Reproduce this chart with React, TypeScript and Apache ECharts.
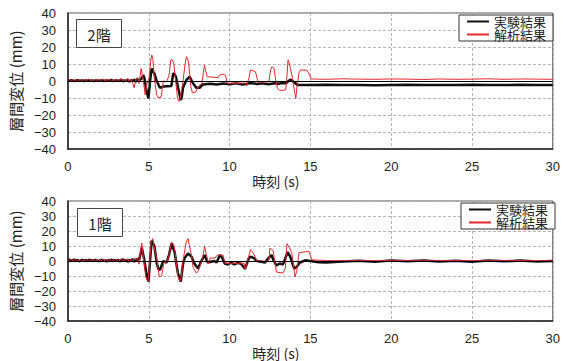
import React, { useEffect, useRef } from "react";
import * as echarts from "echarts";

// ---- shared sample times for the quiet (pre-shaking) part ----
const noiseTimes = [
  0, 0.1, 0.2, 0.3, 0.4, 0.5, 0.6, 0.7, 0.8, 0.9, 1.0, 1.1, 1.2, 1.3, 1.4, 1.5, 1.6, 1.7, 1.8, 1.9, 2.0, 2.1,
  2.2, 2.3, 2.4, 2.5, 2.6, 2.7, 2.8, 2.9, 3.0, 3.1, 3.2, 3.3, 3.4, 3.5, 3.6, 3.7, 3.8, 3.9, 4.0, 4.1, 4.2, 4.3, 4.4,
];

// ---- 2階 (upper chart) ----
const f2ExpNoise = [
  0.3, 0.1, 0.4, 0.2, 0.0, 0.3, 0.5, 0.1, 0.2, 0.4, 0.0, 0.3, 0.2, 0.5, 0.1, 0.3, 0.0, 0.4, 0.2, 0.3, 0.1, 0.5,
  0.0, 0.2, 0.4, 0.1, 0.3, 0.6, -0.1, 0.2, 0.5, 0.0, 0.3, 0.7, -0.2, 0.4, 0.1, 0.6, -0.3, 0.5, 0.0, 0.8, -0.4, 1.0, 0.2,
];
const f2ExpTimes = [
  4.57, 4.67, 4.75, 4.82, 4.98, 5.08, 5.18, 5.3, 5.35, 5.49, 5.69, 5.9, 6.4, 6.51, 6.6, 6.68, 6.82, 6.98, 7.05,
  7.12, 7.33, 7.53, 7.74, 7.94, 8.15, 8.35, 8.8, 9.2, 9.6, 10.0, 10.4, 10.8, 11.0, 11.3, 11.7, 12.0, 12.4, 12.8,
  13.0, 13.3, 13.5, 13.65, 13.76, 13.9, 14.2, 15.0, 16.0, 17.0, 18.0, 19.0, 20.0, 21.0, 22.0, 23.0, 24.0, 25.0,
  26.0, 27.0, 28.0, 29.0, 30.0,
];
const f2ExpVals = [
  1.6, 3.5, 1.0, -4.0, -10.2, 0.0, 7.4, 5.0, 4.5, 0.0, -4.0, -3.3, -3.0, 4.5, 4.0, 2.5, -4.0, -11.2, -9.0,
  -4.0, 0.6, 2.5, -1.4, -4.0, -4.0, -2.0, -1.6, -2.1, -1.5, -1.9, -1.4, -2.0, -1.8, -1.2, -1.7, -1.4, -1.9, -1.3,
  -1.6, -1.2, -1.3, 0.0, 0.8, 0.0, -2.3, -2.4, -2.2, -2.4, -2.3, -2.5, -2.3, -2.2, -2.4, -2.3, -2.4, -2.2,
  -2.3, -2.4, -2.2, -2.3, -2.4,
];
const f2AnaNoise = [
  0.5, 0.9, 0.2, 0.8, 0.3, 1.0, 0.1, 0.7, -0.2, 0.6, 0.9, 0.0, 0.8, 1.2, 0.2, 0.7, -0.3, 0.9, 0.3, 1.1, 0.0, 0.6,
  1.3, -0.2, 0.8, 0.4, 1.4, -0.4, 0.9, 0.2, 1.2, -0.5, 0.7, 1.5, -0.6, 0.9, 0.1, 1.6, -0.8, 1.0, -1.2, -4.0, 1.4, 2.0, -1.5,
];
const f2AnaTimes = [
  4.53, 4.67, 4.78, 4.88, 5.02, 5.14, 5.19, 5.26, 5.34, 5.49, 5.59, 5.76, 5.9, 6.1, 6.25, 6.37, 6.45, 6.55, 6.62,
  6.78, 6.88, 6.95, 7.12, 7.25, 7.33, 7.4, 7.47, 7.6, 7.7, 7.9, 8.05, 8.29, 8.38, 8.45, 8.52, 8.62, 9.3, 9.38,
  9.6, 9.75, 9.85, 11.0, 11.07, 11.2, 11.3, 11.6, 11.72, 11.8, 12.43, 12.55, 12.62, 12.75, 12.85, 12.96, 13.1,
  13.47, 13.55, 13.62, 13.68, 13.75, 13.9, 14.02, 14.1, 14.18, 14.3, 14.4, 14.8, 14.92, 15.05, 16.0, 17.0, 18.0,
  19.0, 20.0, 21.0, 22.0, 23.0, 24.0, 25.0, 26.0, 27.0, 28.0, 29.0, 30.0,
];
const f2AnaVals = [
  7.4, -0.4, -8.2, -2.0, 1.6, 13.3, 15.3, 12.5, 1.6, -8.0, -10.0, -9.5, 0.0, -0.5, 3.0, 12.5, 12.4, 10.6, 4.0,
  -10.2, -12.0, -10.0, 0.0, 10.0, 14.3, 13.0, 10.6, -3.0, -7.0, -6.5, -3.3, -1.4, 5.0, 9.4, 6.0, 2.5, 2.0, 3.5,
  4.0, 3.5, -1.4, -1.2, -3.0, 2.0, 6.5, 5.5, 1.0, -0.8, -0.5, 7.0, 8.4, 7.5, 1.0, -4.3, -5.5,
  -5.3, 3.0, 12.4, 11.0, 8.0, 1.5, -6.0, -10.2, -3.0, 5.0, 6.5, 6.3, 4.0, 1.2, 1.0, 1.3, 1.1,
  1.0, 1.2, 1.1, 0.9, 1.2, 1.0, 1.1, 1.3, 1.0, 1.2, 1.1, 1.0,
];

// ---- 1階 (lower chart) ----
const f1ExpNoise = [
  0.4, 0.9, 0.0, 0.6, 1.0, 0.2, 0.7, -0.2, 0.5, 0.8, 0.1, 0.6, -0.1, 0.9, 0.3, 0.5, 0.0, 0.8, 0.4, -0.2, 0.6, 0.9,
  0.1, 0.5, -0.3, 0.7, 0.2, 1.0, -0.1, 0.6, 0.3, 0.8, -0.2, 0.5, 1.1, 0.0, 0.7, -0.4, 0.9, 0.2, 1.2, -0.5, 0.8, 1.5, 0.3,
];
const f1ExpTimes = [
  4.57, 4.7, 4.85, 4.98, 5.08, 5.18, 5.35, 5.49, 5.59, 5.69, 5.9, 6.1, 6.25, 6.41, 6.6, 6.8, 6.98, 7.12, 7.22,
  7.43, 7.64, 7.84, 8.05, 8.25, 8.45, 8.65, 9.06, 9.2, 9.4, 9.55, 9.7, 9.9, 10.1, 10.3, 10.5, 10.7, 10.96, 11.2,
  11.3, 11.5, 11.7, 12.2, 12.4, 12.6, 12.7, 12.9, 13.1, 13.3, 13.6, 13.75, 14.0, 14.15, 14.35, 14.66, 15.0, 15.5,
  16.0, 16.5, 17.0, 18.0, 19.0, 20.0, 21.0, 22.0, 23.0, 24.0, 25.0, 26.0, 27.0, 28.0, 29.0, 30.0,
];
const f1ExpVals = [
  9.0, 2.0, -8.0, -13.7, 0.0, 13.6, 10.0, -1.0, -5.0, -6.0, 0.0, -1.0, 4.0, 11.6, 6.0, -8.0, -13.7, -2.0, 2.0,
  5.0, 3.0, -2.0, -5.0, 0.0, 4.0, -1.0, 0.0, -1.0, 4.0, 2.0, -1.6, -2.3, -1.0, -2.2, -1.2, -1.8, -5.0, 2.0,
  3.0, 2.0, 0.0, -1.0, 2.0, 4.0, 1.0, -3.0, -1.6, -2.4, 6.0, 3.0, -5.0, -4.0, -1.0, 0.5, 0.0, -0.8,
  -1.0, -0.6, -0.3, 0.2, -0.4, 0.3, -0.2, 0.4, -0.3, 0.2, -0.4, 0.3, -0.2, 0.3, -0.3, 0.1,
];
const f1AnaNoise = [
  0.6, 0.2, 1.0, 0.4, 0.8, -0.1, 0.9, 0.3, 1.1, 0.0, 0.7, -0.3, 0.8, 1.0, -0.2, 0.6, 1.2, 0.1, 0.9, -0.4, 0.8, 0.3,
  1.3, -0.3, 0.9, 0.2, 1.1, -0.5, 1.0, 0.4, 1.3, -0.4, 0.8, 1.5, -0.6, 1.2, 0.3, 1.6, -0.8, 1.1, 0.0, 1.8, 1.0, 2.0, -2.0,
];
const f1AnaTimes = [
  4.57, 4.67, 4.82, 4.95, 5.05, 5.15, 5.25, 5.35, 5.49, 5.65, 5.8, 5.94, 6.14, 6.3, 6.41, 6.55, 6.65, 6.8, 6.92,
  7.0, 7.12, 7.3, 7.43, 7.5, 7.64, 7.74, 7.94, 8.05, 8.15, 8.35, 8.45, 8.55, 8.7, 8.8, 9.1, 9.25, 9.6, 9.72, 10.9,
  10.96, 11.1, 11.3, 11.5, 11.7, 12.43, 12.5, 12.7, 12.9, 13.3, 13.45, 13.55, 13.7, 13.85, 14.05, 14.15, 14.3,
  14.9, 15.1, 16.0, 18.0, 20.0, 22.0, 24.0, 26.0, 28.0, 30.0,
];
const f1AnaVals = [
  12.0, 2.0, -10.8, -13.7, -2.0, 13.0, 15.0, 8.0, 2.0, -10.5, -10.0, -1.0, -0.5, 6.0, 12.7, 11.0, 4.0, -10.0, -13.7,
  -11.0, 0.0, 12.0, 15.0, 11.0, 4.0, -4.0, -8.0, -7.0, -4.0, 3.0, 9.8, 5.0, -2.0, 2.0, 2.0, 4.0, 4.0, -1.5, -1.5,
  -6.0, 0.0, 7.6, 4.7, 0.0, 0.0, 8.6, 7.0, -7.3, -8.0, -5.0, 11.6, 9.0, 5.6, -10.6, -7.0, 5.6,
  6.5, 0.8, 0.3, 0.2, 0.3, 0.2, 0.3, 0.2, 0.3, 0.2,
];

const ytickMin = -40;
const ytickMax = 40;
const xtickMax = 30;

const SERIES_EXP = "実験結果";
const SERIES_ANA = "解析結果";
const FLOOR_LABELS = ["2階", "1階"];

function build(noise: number[], times: number[], vals: number[]) {
  const a = noiseTimes.map((t, i) => [t, noise[i]]);
  const b = times.map((t, i) => [t, vals[i]]);
  return a.concat(b);
}

const NUM_FONT = "'Liberation Sans', Arial, 'Noto Sans CJK JP', sans-serif";
const CJK_FONT = "'Noto Sans CJK JP', 'Liberation Sans', sans-serif";
const TXT = "#222";

export default function App() {
  const ref = useRef<HTMLDivElement>(null);
  useEffect(() => {
    if (!ref.current) return;
    const chart = echarts.init(ref.current, undefined, { renderer: "svg" });
    const grids = [
      { left: 67, top: 13, width: 490, height: 136 },
      { left: 67, top: 201, width: 490, height: 135 },
    ];
    const xAxes = grids.map((_, i) => ({
      type: "value",
      gridIndex: i,
      min: 0,
      max: xtickMax,
      interval: 5,
      axisLine: { show: true, onZero: false, lineStyle: { color: "#222", width: 1.5 } },
      axisTick: { show: false },
      axisLabel: { fontSize: 13, color: TXT, margin: 11, fontFamily: NUM_FONT },
      splitLine: { show: true, lineStyle: { type: [3, 2], color: "#b4b4b4", width: 1 } },
      name: "時刻 (s)",
      nameLocation: "middle",
      nameGap: 12,
      nameTextStyle: { fontSize: 14, color: TXT, fontFamily: CJK_FONT, padding: [0, 69, 0, 0], verticalAlign: "top" },
    }));
    const yAxes = grids.map((_, i) => ({
      type: "value",
      gridIndex: i,
      min: ytickMin,
      max: ytickMax,
      interval: 10,
      axisLine: { show: true, onZero: false, lineStyle: { color: "#222", width: 1.5 } },
      axisTick: { show: false },
      axisLabel: {
        fontSize: 13,
        color: TXT,
        margin: 12,
        fontFamily: NUM_FONT,
        formatter: (v: number) => (v < 0 ? "\u2212" + Math.abs(v) : String(v)),
      },
      splitLine: { show: true, lineStyle: { type: [3, 2], color: "#b4b4b4", width: 1 } },
      name: "層間変位 (mm)",
      nameLocation: "middle",
      nameGap: 42,
      nameTextStyle: { fontSize: 15, color: TXT, fontFamily: CJK_FONT },
    }));
    const zeroLine = {
      silent: true,
      symbol: "none",
      label: { show: false },
      lineStyle: { color: "#000", width: 1, type: "solid" },
      data: [{ yAxis: 0 }],
    };
    const datasets = [
      [build(f2ExpNoise, f2ExpTimes, f2ExpVals), build(f2AnaNoise, f2AnaTimes, f2AnaVals)],
      [build(f1ExpNoise, f1ExpTimes, f1ExpVals), build(f1AnaNoise, f1AnaTimes, f1AnaVals)],
    ];
    const series: any[] = [];
    datasets.forEach((pair, i) => {
      series.push({
        name: SERIES_EXP,
        type: "line",
        xAxisIndex: i,
        yAxisIndex: i,
        data: pair[0],
        symbol: "none",
        lineStyle: { color: "#111", width: 2.5 },
        itemStyle: { color: "#111" },
        z: 2,
        markLine: zeroLine,
      });
      series.push({
        name: SERIES_ANA,
        type: "line",
        xAxisIndex: i,
        yAxisIndex: i,
        data: pair[1],
        symbol: "none",
        lineStyle: { color: "#e8262d", width: 1 },
        itemStyle: { color: "#e8262d" },
        z: 3,
      });
    });
    const legendBase = {
      orient: "vertical",
      icon: "rect",
      itemWidth: 22,
      itemHeight: 2,
      itemGap: 0,
      padding: [0, 7, 0, 8],
      borderColor: "#333",
      borderWidth: 1,
      backgroundColor: "#fff",
      textStyle: { fontSize: 13, lineHeight: 13, color: TXT, fontFamily: CJK_FONT },
      data: [SERIES_EXP, SERIES_ANA],
      selectedMode: false,
    };
    const labelBoxes = [
      { x: 76.5, y: 19.5 },
      { x: 77.5, y: 208.5 },
    ];
    const graphic: any[] = [];
    labelBoxes.forEach((b, i) => {
      graphic.push({
        type: "rect",
        z: 100,
        shape: { x: b.x, y: b.y, width: 45, height: 28 },
        style: { fill: "#fff", stroke: "#444", lineWidth: 1 },
      });
      graphic.push({
        type: "text",
        z: 101,
        x: b.x + 22.5,
        y: b.y + 14.5,
        style: {
          text: FLOOR_LABELS[i],
          fontSize: 15,
          fill: TXT,
          fontFamily: CJK_FONT,
          align: "center",
          verticalAlign: "middle",
        },
      });
    });
    chart.setOption({
      animation: false,
      backgroundColor: "#fff",
      grid: grids.map((g) => ({ ...g, show: true, borderColor: "#555", borderWidth: 1, backgroundColor: "transparent" })),
      xAxis: xAxes,
      yAxis: yAxes,
      legend: [
        { ...legendBase, left: 459, top: 15 },
        { ...legendBase, left: 461, top: 203 },
      ],
      graphic,
      series,
    });
    return () => chart.dispose();
  }, []);
  return (
    <div
      ref={ref}
      style={{ position: "fixed", left: 0, top: 0, width: 563, height: 361, background: "#fff" }}
    />
  );
}
